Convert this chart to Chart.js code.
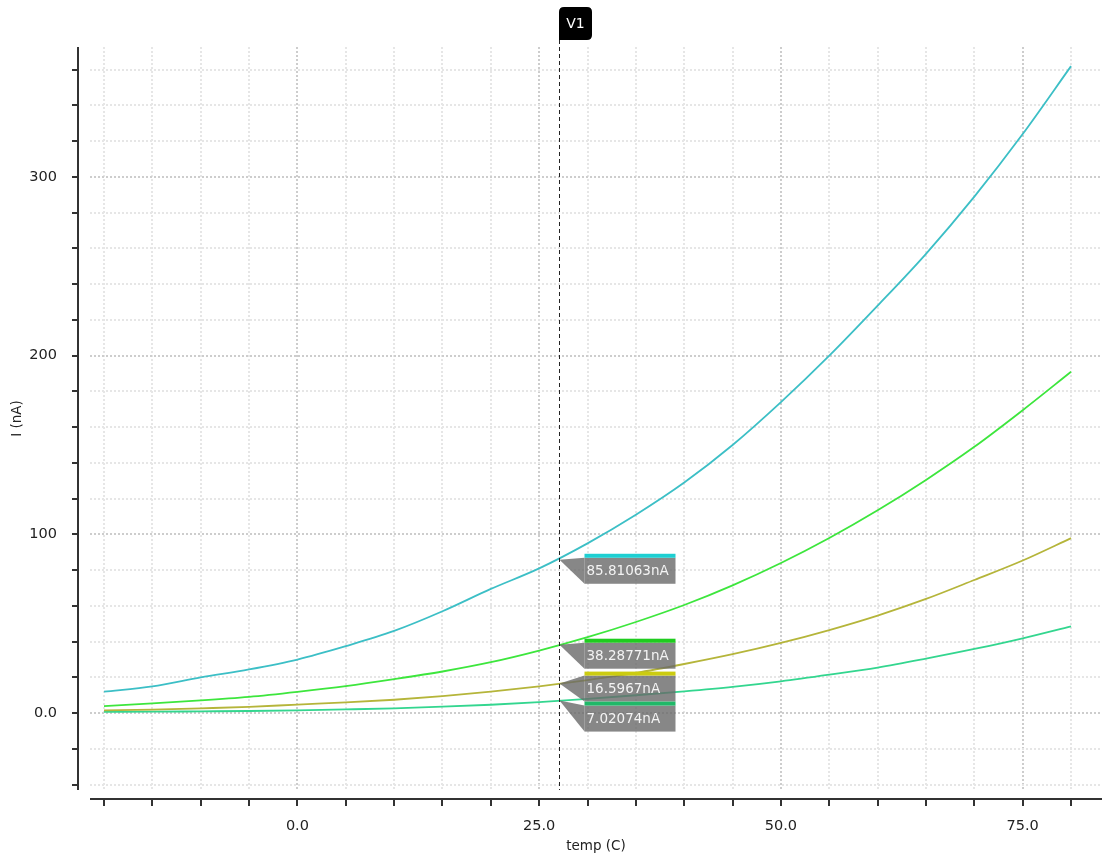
<!DOCTYPE html>
<html>
<head>
<meta charset="utf-8">
<script src="https://cdn.jsdelivr.net/npm/chart.js@4/dist/chart.umd.min.js"></script>
<style>
html, body { margin: 0; padding: 0; background: #fff; }
</style>
</head>
<body>
<canvas id="myChart" width="1102" height="857"></canvas>
<script>
// temperature sweep (C)
var temps = [-20, -15, -10, -5, 0, 5, 10, 15, 20, 25, 30, 35, 40, 45, 50, 55, 60, 65, 70, 75, 80];
// currents in nA
var i_cyan  = [12, 15, 20, 24.5, 30, 37.5, 46, 57, 69.5, 81, 95, 111, 129, 150, 174, 200, 228, 257, 289, 324, 362];
var i_green = [3.9, 5.5, 7.1, 9.1, 11.9, 15.1, 19, 23.3, 28.5, 35, 42.5, 51, 60.5, 71.5, 84, 98, 113.5, 130.5, 149, 169.5, 191];
var i_olive = [1.5, 2, 2.7, 3.5, 4.8, 6, 7.5, 9.5, 12, 15, 18.5, 22.5, 27.5, 33, 39.3, 46.5, 54.6, 63.9, 74.5, 85.4, 97.9];
var i_teal  = [0.7, 0.8, 1, 1.2, 1.6, 2.1, 2.7, 3.6, 4.7, 6.2, 8, 10, 12.2, 14.7, 17.8, 21.5, 25.5, 30.5, 35.9, 41.9, 48.6];

var xTickValues = [-20, -15, -10, -5, 0, 5, 10, 15, 20, 25, 30, 35, 40, 45, 50, 55, 60, 65, 70, 75, 80];
var yTickValues = [-40, -20, 0, 20, 40, 60, 80, 100, 120, 140, 160, 180, 200, 220, 240, 260, 280, 300, 320, 340, 360];

// marker V1
var markerName = "V1";
var markerTemp = 27;
var markerValues = [85.81063, 38.28771, 16.5967, 7.02074];
var markerLabels = ["85.81063nA", "38.28771nA", "16.5967nA", "7.02074nA"];
var markerBands = ["#1ecfd2", "#1fcc1f", "#cccc10", "#20b868"];

function pts(ys) {
    var out = [];
    for (var i = 0; i < temps.length; i++) {
        out.push({x: temps[i], y: ys[i]});
    }
    return out;
}

var FONT = "'DejaVu Sans', Verdana, sans-serif";

var axesAndMarker = {
    id: 'axesAndMarker',
    afterDatasetsDraw: function(chart) {
        var c = chart.ctx;
        var xs = chart.scales.x, ys = chart.scales.y;
        var area = chart.chartArea;
        c.save();
        // y axis line + ticks (detached from plot area)
        var ax = area.left - 12;
        c.strokeStyle = '#333';
        c.lineWidth = 2;
        c.beginPath();
        c.moveTo(ax, area.top);
        c.lineTo(ax, area.bottom);
        for (var i = 0; i < yTickValues.length; i++) {
            var py = Math.round(ys.getPixelForValue(yTickValues[i]));
            c.moveTo(ax - 6, py);
            c.lineTo(ax, py);
        }
        // x axis line + ticks
        var ay = area.bottom + 9;
        c.moveTo(area.left, ay);
        c.lineTo(area.right, ay);
        for (var j = 0; j < xTickValues.length; j++) {
            var px = Math.round(xs.getPixelForValue(xTickValues[j]));
            c.moveTo(px, ay);
            c.lineTo(px, ay + 7);
        }
        c.stroke();

        // marker line
        var mx = Math.round(xs.getPixelForValue(markerTemp)) + 0.5;
        c.strokeStyle = '#222';
        c.lineWidth = 1;
        c.setLineDash([4, 3]);
        c.beginPath();
        c.moveTo(mx, 40);
        c.lineTo(mx, area.bottom);
        c.stroke();
        c.setLineDash([]);

        // V1 tag
        var bx = mx - 0.5, by = 7, bw = 33, bh = 33, r = 5;
        c.fillStyle = '#000';
        c.beginPath();
        c.moveTo(bx + r, by);
        c.lineTo(bx + bw - r, by);
        c.quadraticCurveTo(bx + bw, by, bx + bw, by + r);
        c.lineTo(bx + bw, by + bh - r);
        c.quadraticCurveTo(bx + bw, by + bh, bx + bw - r, by + bh);
        c.lineTo(bx, by + bh);
        c.lineTo(bx, by + r);
        c.quadraticCurveTo(bx, by, bx + r, by);
        c.fill();
        c.fillStyle = '#fff';
        c.font = '14px ' + FONT;
        c.textAlign = 'center';
        c.textBaseline = 'middle';
        c.fillText(markerName, bx + bw / 2, by + bh / 2 + 1);

        // value labels, stacked from the bottom up so they don't overlap
        var boxW = 91, boxH = 30, band = 4;
        var tops = [];
        var nextTop = 1e9;
        for (var k = markerValues.length - 1; k >= 0; k--) {
            var a = ys.getPixelForValue(markerValues[k]);
            var want = (k === markerValues.length - 1) ? a + 1 : a - 6;
            tops[k] = Math.min(want, nextTop - boxH);
            nextTop = tops[k];
        }
        c.font = '13.5px ' + FONT;
        c.textAlign = 'left';
        for (var m = 0; m < markerValues.length; m++) {
            var py2 = ys.getPixelForValue(markerValues[m]);
            var top = tops[m];
            var x0 = mx + 25;
            c.fillStyle = 'rgba(105,105,105,0.8)';
            c.beginPath();
            c.moveTo(mx, py2);
            c.lineTo(x0, top + band);
            c.lineTo(x0, top + boxH);
            c.closePath();
            c.fill();
            c.fillRect(x0, top + band, boxW, boxH - band);
            c.fillStyle = markerBands[m];
            c.fillRect(x0, top, boxW, band);
            c.fillStyle = '#f4f4f4';
            c.textBaseline = 'middle';
            c.fillText(markerLabels[m], x0 + 2, top + band + (boxH - band) / 2 + 1);
        }
        c.restore();
    }
};

var ctx = document.getElementById("myChart");
var myLineChart = new Chart(ctx, {
    type: 'line',
    data: {
        datasets: [
            { label: 'cyan', data: pts(i_cyan), borderColor: '#3cbfc6' },
            { label: 'green', data: pts(i_green), borderColor: '#3de63d' },
            { label: 'olive', data: pts(i_olive), borderColor: '#b5b53a' },
            { label: 'teal', data: pts(i_teal), borderColor: '#33d68f' }
        ]
    },
    options: {
        responsive: false,
        animation: false,
        devicePixelRatio: 1,
        layout: { padding: { top: 47, right: 0, left: 0, bottom: 0 } },
        elements: {
            point: { radius: 0 },
            line: { borderWidth: 1.8, cubicInterpolationMode: 'monotone', fill: false }
        },
        plugins: {
            legend: { display: false },
            tooltip: { enabled: false }
        },
        scales: {
            x: {
                type: 'linear',
                min: -21.45,
                max: 83.2,
                afterBuildTicks: function(scale) {
                    scale.ticks = xTickValues.map(function(v) { return {value: v}; });
                },
                afterFit: function(scale) { scale.height = 67; },
                grid: {
                    drawTicks: false,
                    lineWidth: 2,
                    color: function(c) { return (c.tick && c.tick.value % 25 === 0) ? '#cdcdcd' : '#e6e6e6'; }
                },
                border: { display: false, dash: [2, 2] },
                ticks: {
                    padding: 28,
                    maxRotation: 0,
                    autoSkip: false,
                    color: '#222',
                    font: { family: FONT, size: 14.5 },
                    callback: function(v) { return (v % 25 === 0) ? v.toFixed(1) : ''; }
                },
                title: {
                    display: true,
                    text: 'temp (C)',
                    color: '#222',
                    font: { family: FONT, size: 13.5 },
                    padding: { top: 0, bottom: 2 }
                }
            },
            y: {
                type: 'linear',
                min: -43,
                max: 372.7,
                afterBuildTicks: function(scale) {
                    scale.ticks = yTickValues.map(function(v) { return {value: v}; });
                },
                afterFit: function(scale) { scale.width = 90; },
                grid: {
                    drawTicks: false,
                    lineWidth: 2,
                    color: function(c) { return (c.tick && c.tick.value % 100 === 0) ? '#cdcdcd' : '#e6e6e6'; }
                },
                border: { display: false, dash: [2, 2] },
                ticks: {
                    padding: 33,
                    autoSkip: false,
                    color: '#222',
                    font: { family: FONT, size: 14.5 },
                    callback: function(v) {
                        if (v === 0) return '0.0';
                        return (v % 100 === 0) ? String(v) : '';
                    }
                },
                title: {
                    display: true,
                    text: 'I (nA)',
                    color: '#222',
                    font: { family: FONT, size: 13.5 },
                    padding: { top: 9, bottom: 0 }
                }
            }
        }
    },
    plugins: [axesAndMarker]
});
</script>
</body>
</html>
